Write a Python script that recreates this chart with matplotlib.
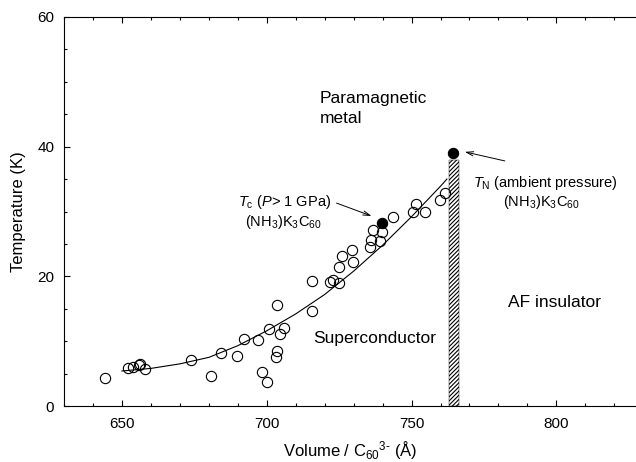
import matplotlib
matplotlib.use("Agg")
import matplotlib.pyplot as plt
from matplotlib.ticker import MultipleLocator

plt.rcParams['font.family'] = ['Liberation Sans', 'DejaVu Sans']
plt.rcParams['mathtext.fontset'] = 'custom'
plt.rcParams['mathtext.rm'] = 'Liberation Sans'
plt.rcParams['mathtext.it'] = 'Liberation Sans:italic'
plt.rcParams['mathtext.bf'] = 'Liberation Sans:bold'
plt.rcParams['hatch.linewidth'] = 0.8

# Open circles: volume per C60(3-) (A^3) and Tc (K)
open_volume = [644.1, 652.2, 653.7, 656.0, 656.4, 657.9, 674.0, 680.6, 684.2, 689.6,
               692.1, 697.0, 698.5, 700.1, 700.7, 703.3, 703.6, 703.7, 704.7, 705.9,
               715.6, 715.8, 722.0, 722.9, 724.9, 724.9, 726.1, 729.6, 729.8, 735.5,
               736.1, 739.0, 736.7, 739.9, 743.6, 751.4, 750.5, 754.5, 759.7, 761.7]
open_tc = [4.3, 5.8, 6.0, 6.3, 6.5, 5.7, 7.1, 4.7, 8.1, 7.7,
           10.4, 10.2, 5.3, 3.7, 11.8, 7.5, 8.5, 15.6, 11.1, 12.1,
           14.6, 19.3, 19.1, 19.5, 19.0, 21.4, 23.1, 24.1, 22.2, 24.6,
           25.6, 25.5, 27.2, 26.8, 29.1, 31.2, 29.9, 29.9, 31.7, 32.8]

# Filled circles: (NH3)K3C60 Tc under pressure and TN at ambient pressure
filled_volume = [739.8, 764.3]
filled_temp = [28.2, 39.0]

# Guide curve
curve_volume = [650, 660, 670, 680, 690, 700, 710, 720, 730, 740, 750, 760, 762.2]
curve_temp = [5.4, 5.8, 6.5, 7.5, 9.3, 11.6, 14.2, 17.2, 20.8, 24.8, 29.2, 33.9, 35.0]

# Metal-insulator boundary (hatched bar)
boundary_volume = 764.6
boundary_width = 3.4
boundary_top = 38.0

x_ticks = [650, 700, 750, 800]
y_ticks = [0, 20, 40, 60]

fig = plt.figure(figsize=(6.36, 4.62), dpi=100)
ax = fig.add_axes([64/636, 56/462, 1 - 64/636, (406-17)/462])

ax.bar([boundary_volume], [boundary_top], width=boundary_width, bottom=0,
       fill=False, hatch='////////', edgecolor='black', linewidth=0.3, zorder=1)

ax.plot(curve_volume, curve_temp, color='black', lw=0.8, zorder=2)
ax.plot(open_volume, open_tc, 'o', ms=7.4, mfc='none', mec='black', mew=0.8, zorder=3)
ax.plot(filled_volume, filled_temp, 'o', ms=7.4, mfc='black', mec='black', mew=0.8, zorder=4)

ax.set_xlim(630, 827.5)
ax.set_ylim(0, 60)
ax.set_xticks(x_ticks)
ax.set_yticks(y_ticks)
ax.xaxis.set_minor_locator(MultipleLocator(10))
ax.yaxis.set_minor_locator(MultipleLocator(5))
ax.tick_params(which='both', direction='in', top=True, right=False, labelsize=11)
ax.tick_params(which='major', length=4.5, width=0.8)
ax.tick_params(which='minor', length=2.5, width=0.8)
ax.tick_params(axis='x', pad=8)
ax.tick_params(axis='y', pad=7)
ax.spines['right'].set_visible(False)
for s in ['left', 'top', 'bottom']:
    ax.spines[s].set_linewidth(0.8)

ax.set_xlabel('Volume / C$_{60}$$^{3\u2010}$ (\u00c5)', fontsize=12, labelpad=6)
ax.set_ylabel('Temperature (K)', fontsize=12, labelpad=8)

fs = 12.5
ax.text(718.4, 46.8, 'Paramagnetic', fontsize=fs, ha='left', va='baseline')
ax.text(718.4, 43.7, 'metal', fontsize=fs, ha='left', va='baseline')
ax.text(716.1, 9.7, 'Superconductor', fontsize=fs, ha='left', va='baseline')
ax.text(783.3, 15.3, 'AF insulator', fontsize=fs, ha='left', va='baseline')

fs2 = 10.5
ax.text(690.2, 30.9, r'$T_\mathrm{c}$ ($P$> 1 GPa)', fontsize=fs2, ha='left', va='baseline')
ax.text(692.5, 27.8, r'(NH$_3$)K$_3$C$_{60}$', fontsize=fs2, ha='left', va='baseline')
ax.text(771.2, 33.8, r'$T_\mathrm{N}$ (ambient pressure)', fontsize=fs2, ha='left', va='baseline')
ax.text(781.6, 30.8, r'(NH$_3$)K$_3$C$_{60}$', fontsize=fs2, ha='left', va='baseline')

arrow = dict(arrowstyle='->,head_length=0.5,head_width=0.15', lw=0.7, color='black',
             shrinkA=0, shrinkB=0)
ax.annotate('', xy=(736.2, 29.3), xytext=(724.1, 31.3), arrowprops=arrow)
ax.annotate('', xy=(768.4, 39.2), xytext=(782.2, 37.8), arrowprops=arrow)

fig.savefig('out.png', dpi=100)
